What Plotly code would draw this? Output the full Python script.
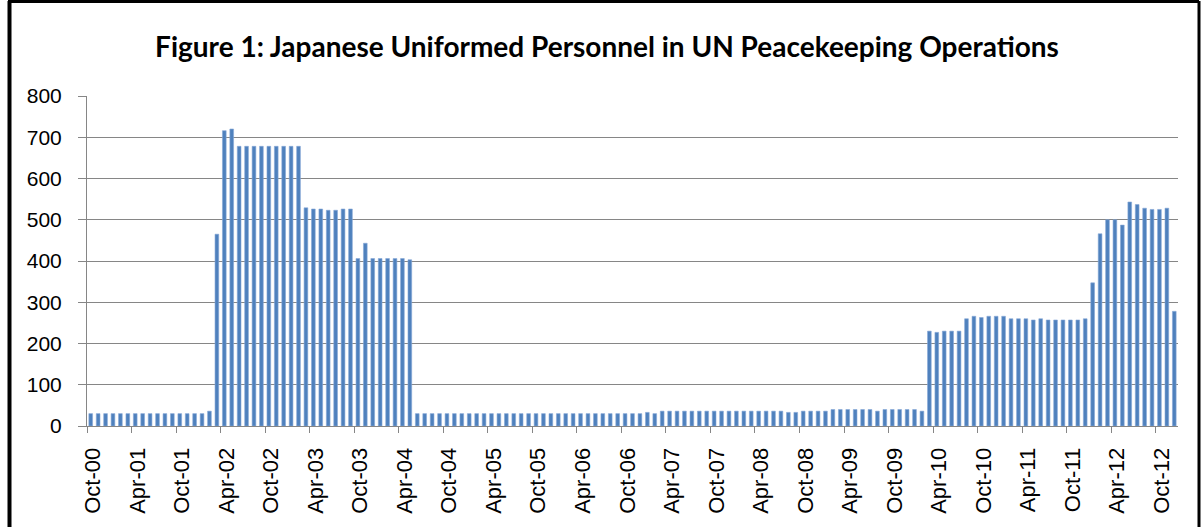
import plotly.graph_objects as go

# ---- data -------------------------------------------------------------
# monthly, Oct-2000 .. Dec-2012 (147 months)
n_months = 147
month_index = list(range(n_months))

personnel = [
    30, 30, 30, 30, 30, 30, 30, 30, 30, 30, 30, 30, 30, 30, 30, 30, 36,   # Oct-00 .. Feb-02
    465, 716, 720,                                                        # Mar-02 .. May-02
    678, 678, 678, 678, 678, 678, 678, 678, 678,                          # Jun-02 .. Feb-03
    529, 526, 526, 523, 523, 526, 526,                                    # Mar-03 .. Sep-03
    406, 443, 406, 406, 406, 406, 406, 403,                               # Oct-03 .. May-04
    30, 30, 30, 30, 30, 30, 30, 30, 30, 30, 30, 30, 30, 30, 30, 30,
    30, 30, 30, 30, 30, 30, 30, 30, 30, 30, 30, 30, 30, 30, 30,           # Jun-04 .. Dec-06
    33, 30,                                                               # Jan-07 .. Feb-07
    36, 36, 36, 36, 36, 36, 36, 36, 36, 36, 36, 36, 36, 36, 36, 36, 36,   # Mar-07 .. Jul-08
    33, 33,                                                               # Aug-08 .. Sep-08
    36, 36, 36, 36,                                                       # Oct-08 .. Jan-09
    40, 40, 40, 40, 40, 40,                                               # Feb-09 .. Jul-09
    36,                                                                   # Aug-09
    40, 40, 40, 40, 40,                                                   # Sep-09 .. Jan-10
    36,                                                                   # Feb-10
    230, 227, 230, 230, 230, 260, 266, 263, 266, 266, 266, 260,
    260, 260, 257, 260, 257, 257, 257, 257, 257, 260, 347, 466,
    500, 500, 487, 543, 537, 528, 525, 525, 528, 278,                     # Mar-10 .. Dec-12
]

tick_labels = [
    "Oct-00", "Apr-01", "Oct-01", "Apr-02", "Oct-02", "Apr-03", "Oct-03",
    "Apr-04", "Oct-04", "Apr-05", "Oct-05", "Apr-06", "Oct-06", "Apr-07",
    "Oct-07", "Apr-08", "Oct-08", "Apr-09", "Oct-09", "Apr-10", "Oct-10",
    "Apr-11", "Oct-11", "Apr-12", "Oct-12",
]
tick_months = [6 * k for k in range(len(tick_labels))]  # months since Oct-00

title_text = "Figure 1: Japanese Uniformed Personnel in UN Peacekeeping Operations"

# ---- figure -----------------------------------------------------------
W, H = 1203, 528
L, R, T, B = 87, 25, 96, 102

fig = go.Figure(
    go.Bar(
        x=month_index,
        y=personnel,
        width=0.5,
        marker=dict(color="#4F81BD", line=dict(color="#86A8D6", width=0.6)),
        hoverinfo="x+y",
    )
)

def px_x(p):
    return (p - L) / (W - L - R)

def px_y(p):
    return 1 - (p - T) / (H - T - B)

frame_black = "#000000"
shapes = [
    dict(type="line", xref="paper", yref="paper", x0=px_x(9.5), x1=px_x(9.5),
         y0=px_y(1), y1=px_y(527), line=dict(color=frame_black, width=4)),
    dict(type="line", xref="paper", yref="paper", x0=px_x(8), x1=px_x(1199),
         y0=px_y(1.5), y1=px_y(1.5), line=dict(color=frame_black, width=3)),
    dict(type="line", xref="paper", yref="paper", x0=px_x(1199), x1=px_x(1199),
         y0=px_y(1), y1=px_y(527), line=dict(color=frame_black, width=3)),
]

fig.update_layout(
    width=W, height=H,
    margin=dict(l=L, r=R, t=T, b=B, pad=0),
    paper_bgcolor="white", plot_bgcolor="white",
    showlegend=False,
    bargap=0.5,
    title=dict(
        text="<b>" + title_text + "</b>",
        x=607 / W, xref="container", xanchor="center",
        y=1 - 47 / H, yref="container", yanchor="middle",
        font=dict(family="Lato, Open Sans, sans-serif", size=28, color="black"),
    ),
    shapes=shapes,
    xaxis=dict(
        range=[-0.5, n_months - 0.5],
        tickmode="array",
        tickvals=[m - 0.5 for m in tick_months],
        ticktext=tick_labels,
        tickangle=-90,
        ticks="outside", ticklen=6, tickcolor="#868686", tickwidth=1,
        showline=True, linecolor="#868686", linewidth=1,
        showgrid=False, zeroline=False,
        ticklabelstandoff=6,
        ticklabelshift=6,
        tickfont=dict(family="Liberation Sans, Arial, sans-serif", size=22, color="black"),
    ),
    yaxis=dict(
        range=[0, 800], dtick=100, tick0=0,
        ticks="outside", ticklen=8, tickcolor="#868686", tickwidth=1,
        showline=True, linecolor="#868686", linewidth=1,
        showgrid=True, gridcolor="#868686", gridwidth=1,
        zeroline=False,
        ticklabelstandoff=12,
        tickfont=dict(family="Liberation Sans, Arial, sans-serif", size=21, color="black"),
    ),
)

fig.write_html("out.html")
